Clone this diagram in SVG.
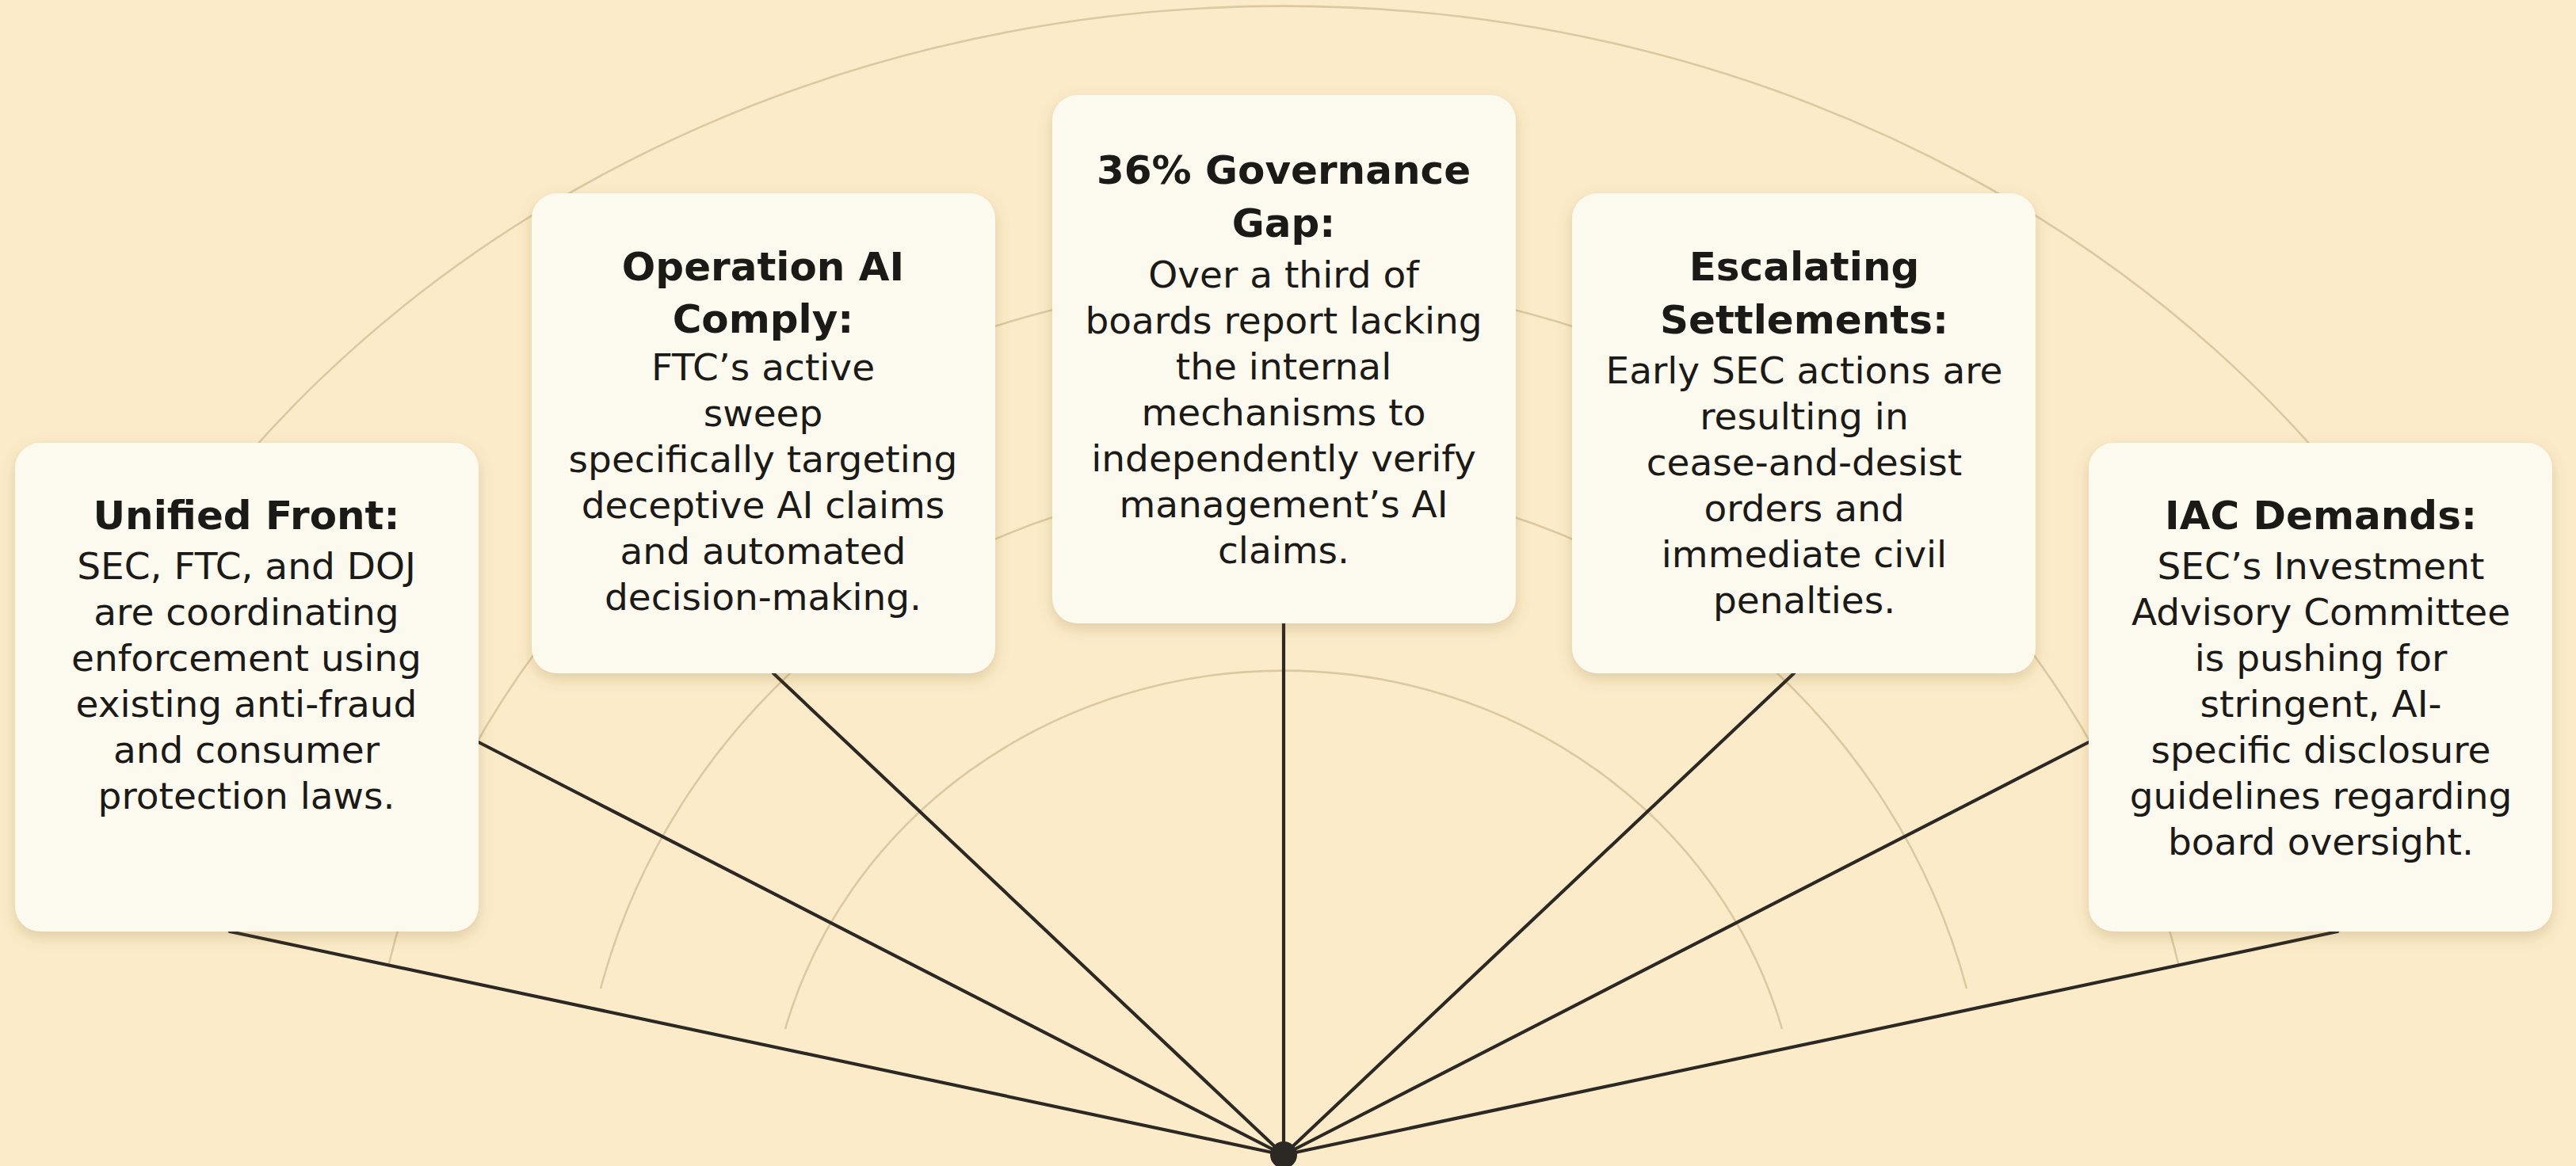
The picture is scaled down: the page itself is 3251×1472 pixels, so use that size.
<svg xmlns="http://www.w3.org/2000/svg" width="3251" height="1472" viewBox="0 0 3251 1472">
  <defs>
    <filter id="cardShadow" x="-10%" y="-10%" width="120%" height="125%">
      <feDropShadow dx="0" dy="7" stdDeviation="9" flood-color="#7a5a26" flood-opacity="0.22"/>
    </filter>
    <style>
      .bg { fill: #fbebc9; }
      .ring { fill: none; stroke: #dcc9a2; stroke-width: 2.6; }
      .spoke { stroke: #2c2823; stroke-width: 4.2; stroke-linecap: round; }
      .hub { fill: #2c2823; }
      .card { fill: #fcf9ee; filter: url(#cardShadow); }
      .title { font-family: "DejaVu Sans", "Liberation Sans", sans-serif; font-weight: bold; font-size: 50px; fill: #1c1a17; text-anchor: middle; }
      .body { font-family: "DejaVu Sans", "Liberation Sans", sans-serif; font-size: 47px; fill: #1c1a17; text-anchor: middle; }
    </style>
  </defs>

  <rect class="bg" x="0" y="0" width="3251" height="1472"/>

  <!-- concentric guide arcs around the hub -->
  <g id="guide-arcs">
    <path class="ring" d="M 151 800 A 1649 1452 0 0 1 3089 800"/>
    <path class="ring" d="M 490 1220 A 1160 1117 0 0 1 2750 1220"/>
    <path class="ring" d="M 758 1248 A 890 855 0 0 1 2482 1248"/>
    <path class="ring" d="M 991 1299 A 652 614 0 0 1 2249 1299"/>
  </g>

  <!-- spokes from the hub to each card -->
  <g id="connectors">
    <line class="spoke" x1="1620" y1="1458" x2="290" y2="1176"/>
    <line class="spoke" x1="1620" y1="1458" x2="604" y2="937"/>
    <line class="spoke" x1="1620" y1="1458" x2="976" y2="850"/>
    <line class="spoke" x1="1620" y1="1458" x2="1620" y2="787"/>
    <line class="spoke" x1="1620" y1="1458" x2="2264" y2="850"/>
    <line class="spoke" x1="1620" y1="1458" x2="2636" y2="937"/>
    <line class="spoke" x1="1620" y1="1458" x2="2950" y2="1176"/>
    <circle class="hub" cx="1620" cy="1458" r="17"/>
  </g>

  <g id="unified-front">
    <rect class="card" x="19" y="559" width="585" height="617" rx="32"/>
    <text class="title" x="311" y="668">Unified Front:</text>
    <text class="body" x="311" y="731">SEC, FTC, and DOJ</text>
    <text class="body" x="311" y="789">are coordinating</text>
    <text class="body" x="311" y="847">enforcement using</text>
    <text class="body" x="311" y="905">existing anti-fraud</text>
    <text class="body" x="311" y="963">and consumer</text>
    <text class="body" x="311" y="1021">protection laws.</text>
  </g>

  <g id="operation-ai-comply">
    <rect class="card" x="671" y="244" width="585" height="606" rx="32"/>
    <text class="title" x="963" y="354">Operation AI</text>
    <text class="title" x="963" y="420">Comply:</text>
    <text class="body" x="963" y="480">FTC’s active</text>
    <text class="body" x="963" y="538">sweep</text>
    <text class="body" x="963" y="596">specifically targeting</text>
    <text class="body" x="963" y="654">deceptive AI claims</text>
    <text class="body" x="963" y="712">and automated</text>
    <text class="body" x="963" y="770">decision-making.</text>
  </g>

  <g id="governance-gap">
    <rect class="card" x="1328" y="120" width="585" height="667" rx="32"/>
    <text class="title" x="1620" y="232">36% Governance</text>
    <text class="title" x="1620" y="299">Gap:</text>
    <text class="body" x="1620" y="363">Over a third of</text>
    <text class="body" x="1620" y="421">boards report lacking</text>
    <text class="body" x="1620" y="479">the internal</text>
    <text class="body" x="1620" y="537">mechanisms to</text>
    <text class="body" x="1620" y="595">independently verify</text>
    <text class="body" x="1620" y="653">management’s AI</text>
    <text class="body" x="1620" y="711">claims.</text>
  </g>

  <g id="escalating-settlements">
    <rect class="card" x="1984" y="244" width="585" height="606" rx="32"/>
    <text class="title" x="2277" y="354">Escalating</text>
    <text class="title" x="2277" y="421">Settlements:</text>
    <text class="body" x="2277" y="484">Early SEC actions are</text>
    <text class="body" x="2277" y="542">resulting in</text>
    <text class="body" x="2277" y="600">cease-and-desist</text>
    <text class="body" x="2277" y="658">orders and</text>
    <text class="body" x="2277" y="716">immediate civil</text>
    <text class="body" x="2277" y="774">penalties.</text>
  </g>

  <g id="iac-demands">
    <rect class="card" x="2636" y="559" width="585" height="617" rx="32"/>
    <text class="title" x="2929" y="668">IAC Demands:</text>
    <text class="body" x="2929" y="731">SEC’s Investment</text>
    <text class="body" x="2929" y="789">Advisory Committee</text>
    <text class="body" x="2929" y="847">is pushing for</text>
    <text class="body" x="2929" y="905">stringent, AI-</text>
    <text class="body" x="2929" y="963">specific disclosure</text>
    <text class="body" x="2929" y="1021">guidelines regarding</text>
    <text class="body" x="2929" y="1079">board oversight.</text>
  </g>
</svg>
